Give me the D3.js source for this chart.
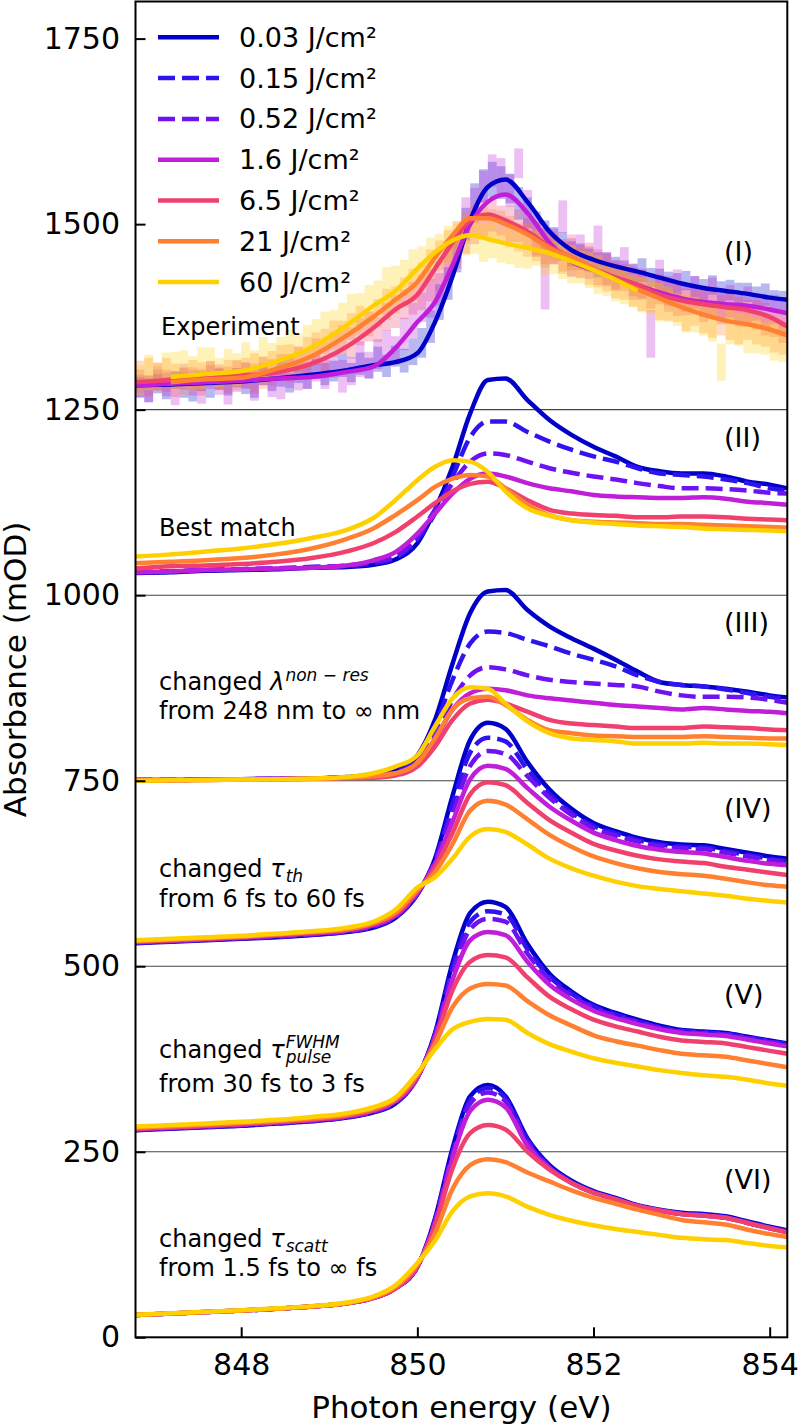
<!DOCTYPE html>
<html><head><meta charset="utf-8">
<script src="https://cdn.jsdelivr.net/npm/d3@7"></script>
<style>
body{margin:0;background:#fff}
svg{display:block}
text{font-family:"DejaVu Sans",sans-serif;fill:#000}
</style>
</head><body>
<svg id="chart" width="798" height="1425"></svg>
<script>
// ---------------- data ----------------
const energy = [846.8,847.2,847.6,848.0,848.4,848.8,849.2,849.5,849.75,850.0,850.2,850.4,850.6,850.8,851.0,851.25,851.5,851.75,852.0,852.25,852.5,852.75,853.0,853.25,853.5,853.75,854.0,854.2];
const fluenceLabels = ["0.03 J/cm²","0.15 J/cm²","0.52 J/cm²","1.6 J/cm²","6.5 J/cm²","21 J/cm²","60 J/cm²"];
const xTicks = [848,850,852,854];
const yTicks = [0,250,500,750,1000,1250,1500,1750];
const panelLabels = ["(I)","(II)","(III)","(IV)","(V)","(VI)"];
const panelLabelValues = [1462.5,1212.5,962.5,712.5,462.5,212.5];
const separatorValues = [250,500,750,1000,1250];

// (I) Experiment — smoothed lines
const exp003 = [1283,1284,1286,1288,1292,1297,1303,1310,1314,1326,1368,1430,1505,1550,1560,1530,1490,1465,1452,1443,1436,1428,1420,1414,1410,1406,1401,1398];
const exp16  = [1282,1285,1287,1289,1292,1294,1301,1308,1333,1368,1395,1445,1500,1530,1540,1515,1475,1450,1438,1428,1418,1408,1400,1395,1392,1390,1385,1380];
const exp65  = [1287,1290,1293,1296,1300,1312,1335,1360,1385,1405,1440,1475,1505,1513,1505,1490,1470,1455,1440,1428,1418,1405,1397,1392,1388,1384,1375,1362];
const exp21  = [null,1287,1291,1293,1305,1322,1350,1375,1398,1422,1455,1485,1508,1508,1500,1486,1468,1455,1440,1425,1412,1400,1388,1378,1370,1365,1358,1350];
const exp60  = [null,1294,1298,1302,1315,1334,1364,1390,1410,1440,1462,1478,1485,1480,1474,1468,1461,1450,1438,1425,1410,null,null,null,null,null,null,null];

// (I) Experiment — binned data (0.1 eV bins from 846.85 eV): centre values and half error
const binCount = 74;
const bin003 = [1280,1276,1285,1279,1290,1283,1275,1288,1282,1291, 1284,1293,1287,1280,1295,1290,1298,1286,1300,1294, 1305,1298,1302,1310,1300,1312,1306,1318,1309,1322, 1316,1328,1340,1362,1395,1420,1460,1500,1535,1552, 1560,1556,1548,1528,1515,1498,1485,1478,1470,1460, 1458,1452,1445,1448,1440,1436,1432,1438,1428,1425, 1422,1418,1424,1415,1412,1418,1408,1411,1405,1408, 1402,1405,1398,1396];
const err003 = [14,16,13,15,12,17,14,13,16,14, 15,13,16,14,12,15,17,13,14,16, 13,15,14,16,13,15,14,17,15,14, 16,18,20,22,24,22,25,22,20,22, 24,22,20,22,21,19,20,18,19,17, 16,15,17,14,16,15,14,16,13,15, 14,16,13,15,14,13,15,14,16,13, 14,15,13,14];
const bin16 = [1282,1278,1290,1284,1276,1292,1286,1280,1294,1288, 1277,1290,1296,1284,1298,1286,1281,1300,1292,1296, 1306,1298,1310,1295,1302,1318,1310,1325,1335,1330, 1352,1370,1388,1400,1412,1448,1470,1510,1525,1550, 1572,1565,1545,1582,1520,1480,1440,1470,1510,1455, 1462,1448,1470,1440,1432,1445,1425,1420,1352,1430, 1410,1415,1400,1408,1395,1402,1390,1396,1385,1392, 1388,1380,1385,1375];
const err16 = [15,18,14,16,20,15,17,22,16,18, 20,16,18,22,15,19,17,21,16,18, 18,20,17,22,19,24,18,20,22,19, 22,24,20,26,22,24,22,26,24,22, 22,24,22,20,26,24,55,24,22,26, 24,22,28,22,20,24,22,20,32,22, 20,24,18,22,20,26,18,22,20,24, 18,22,20,24];
const bin65 = [1288,1282,1295,1289,1284,1298,1291,1287,1300,1294, 1290,1302,1296,1292,1305,1300,1310,1306,1318,1315, 1328,1322,1338,1345,1340,1355,1362,1358,1375,1382, 1392,1400,1408,1418,1430,1445,1462,1480,1495,1508, 1512,1505,1500,1498,1488,1480,1470,1466,1458,1462, 1450,1455,1442,1438,1430,1428,1420,1418,1410,1412, 1402,1398,1395,1398,1390,1392,1385,1388,1382,1380, 1378,1372,1366,1360];
const err65 = [16,14,18,15,17,14,16,18,15,17, 18,15,17,20,16,18,15,19,17,16, 18,20,17,19,21,18,20,17,19,22, 20,22,24,22,20,24,22,20,22,24, 22,20,24,22,20,22,24,20,22,24, 22,20,24,22,20,18,22,20,24,20, 20,22,18,20,22,18,20,22,20,18, 20,22,18,20];
const bin21 = [1298,1305,1292,1300,1296,1288,1302,1295,1299,1292, 1300,1296,1304,1308,1300,1312,1318,1322,1315,1330, 1335,1342,1350,1348,1362,1370,1366,1380,1392,1398, 1408,1418,1430,1445,1458,1470,1485,1495,1505,1502, 1500,1496,1490,1482,1478,1470,1462,1468,1455,1450, 1448,1440,1435,1428,1422,1418,1410,1405,1402,1395, 1392,1388,1380,1384,1375,1372,1370,1366,1362,1365, 1360,1355,1350,1345];
const err21 = [18,15,17,20,16,18,15,19,17,16, 17,20,16,18,22,17,19,16,20,18, 19,17,20,22,18,20,17,19,21,18, 20,22,18,21,20,22,19,21,20,22, 20,22,21,19,22,20,21,19,22,20, 21,22,20,19,22,20,21,22,20,24, 22,20,24,21,22,25,20,22,24,21, 22,20,23,21];
const bin60 = [1290,1300,1296,1305,1302,1310,1298,1306,1312,1300, 1308,1304,1315,1310,1320,1316,1326,1332,1328,1342, 1348,1356,1362,1370,1378,1385,1392,1400,1412,1418, 1428,1440,1448,1458,1465,1472,1478,1480,1484,1475, 1478,1470,1472,1465,1462,1468,1458,1455,1450,1446, 1442,1438,1432,1425,1420,1418,1410,1405,1400,1395, 1392,1385,1380,1378,1372,1368,1314,1362,1358,1352, 1350,1346,1342,1338];
const err60 = [20,24,18,22,26,20,24,28,22,20, 24,22,26,20,28,24,22,26,24,22, 24,26,22,24,28,22,26,24,30,26, 24,26,22,24,22,26,24,22,24,26, 24,22,26,24,22,24,26,22,24,26, 22,24,26,22,24,26,22,24,22,26, 24,22,26,24,22,26,25,24,22,26, 24,22,26,24];

// (II) Best match
const best003 = [1030,1031,1033,1034,1035,1037,1038,1041,1048,1070,1115,1173,1245,1290,1292,1263,1236,1216,1200,1187,1173,1167,1164,1164,1160,1153,1149,1144];
const best015 = [1031,1032,1034,1035,1036,1038,1039,1043,1050,1075,1110,1160,1213,1234,1234,1220,1207,1196,1187,1180,1171,1164,1162,1160,1156,1151,1144,1141];
const best052 = [1031,1032,1034,1035,1036,1038,1040,1045,1052,1079,1115,1151,1180,1191,1189,1180,1171,1165,1160,1156,1151,1147,1144,1144,1143,1141,1138,1137];
const best16  = [1031,1032,1034,1035,1036,1037,1040,1047,1058,1083,1110,1137,1157,1164,1160,1151,1144,1140,1135,1133,1132,1131,1131,1132,1130,1126,1124,1122];
const best65  = [1036,1039,1040,1042,1045,1050,1059,1070,1085,1106,1124,1140,1150,1153,1144,1128,1115,1110,1108,1107,1105,1105,1106,1106,1105,1103,1102,1101];
const best21  = [1043,1045,1047,1050,1055,1063,1076,1090,1108,1128,1146,1157,1162,1160,1144,1122,1108,1101,1099,1098,1097,1096,1096,1095,1094,1093,1092,1091];
const best60  = [1052,1055,1059,1063,1069,1077,1088,1104,1128,1155,1173,1182,1180,1166,1140,1117,1107,1101,1098,1096,1094,1093,1092,1090,1089,1088,1087,1086];

// (III) changed lambda non-res
const lam003 = [751,751,751.5,752,752.5,753,755,758,764,784,832,908,976,1005,1007,980,958,942,928,913,897,883,879,877,874,870,865,862];
const lam015 = [751,751,751.5,752,752.5,753,755,758,762,780,823,886,935,951,949,940,931,921,913,904,892,883,879,877,873,868,863,860];
const lam052 = [751,751,751.5,752,752.5,753,755,757,761,776,809,859,892,903,900,892,886,883,881,879,877,870,865,863,863,862,859,855];
const lam16  = [751,751,751.5,752,752.5,753,754.5,757,760,774,805,846,868,874,872,865,861,858,855,852,850,848,846,848,846,844,843,841];
const lam65  = [750,750.5,751,751.5,752,752.5,753.5,754,757,769,796,832,854,859,854,843,832,827,825,823,821,821,821,823,822,821,819,818];
const lam21  = [750,750.5,751,751.5,752,752.5,754,756,760,774,807,846,861,863,852,832,818,814,811,810,809,809,809,810,809,808,807,807];
const lam60  = [750,750.5,751,751.5,752,753,755,760,769,784,823,861,876,874,854,830,814,807,805,803,800,800,800,801,800,800,799,798];

// (IV) changed tau_th
const th003 = [531,533,535,537,539,542,546,552,565,597,645,730,805,828,820,775,738,712,693,682,673,667,664,663,658,653,648,645];
const th015 = [531.5,533.5,535.5,537.5,539.5,542.5,546.5,553,566,597,643,718,788,808,803,765,732,707,689,679,670,664,661,660,655,650,645,642];
const th052 = [532,534,536,538,540,543,547,554,567,598,641,706,770,790,786,756,727,704,686,676,668,662,659,658,653,648,643,640];
const th16  = [532.5,534.5,536.5,538.5,541,544,548,555,568,599,638,695,752,770,766,740,715,696,680,670,662,657,654,652,647,642,638,636];
const th65  = [533,535,537,539.5,542,545,549,557,570,601,633,680,732,748,744,720,697,680,665,656,649,644,641,639,634,630,626,623];
const th21  = [534,536,538,540,543,546,550,558,572,603,627,665,710,723,718,698,677,661,648,639,632,627,624,622,618,613,609,607];
const th60  = [535,537,539,541,544,547,552,560,576,606,620,645,675,685,681,664,645,632,622,614,608,604,601,598,595,591,588,586];

// (V) changed tau_pulse
const pul003 = [279,281,283,285,288,291,296,303,315,350,410,505,572,587,580,530,490,466,448,437,428,420,414,412,410,405,400,396];
const pul015 = [279.5,281.5,283.5,285.5,288.5,291.5,296.5,303.5,316,350,408,498,560,574,570,523,486,463,446,435,426,418,413,411,409,404,399,395];
const pul052 = [280,282,284,286,289,292,297,304,317,350,406,490,550,564,560,517,482,460,444,433,425,417,412,410,408,403,398,394];
const pul16  = [280.5,282.5,284.5,286.5,289.5,292.5,297.5,305,318,350,404,482,535,546,542,506,475,455,440,430,422,415,410,408,406,401,396,392];
const pul65  = [281,283,285,287.5,290,293.5,298.5,306,319,352,400,468,506,515,512,485,459,442,428,419,412,405,400,398,396,391,386,382];
const pul21  = [282.5,284.5,286.5,289,291.5,295,300,308,321,354,395,445,470,476,474,453,434,420,407,399,393,387,382,380,378,373,368,364];
const pul60  = [284,286,288,290.5,293,297,302,310,323,356,388,415,425,429,428,410,395,385,376,370,365,360,356,353,351,347,342,339];

// (VI) changed tau_scatt
const sca003 = [30,32,34,36,38.5,41.5,46,53,66,95,160,255,325,340,325,268,232,211,197,188,178,172,168,166,163,156,149,144];
const sca015 = [30,32,34,36,38.5,41.5,46,53,66,95,158,250,320,336,322,266,230,210,196,187,177,171,167,165,162,155,148,143];
const sca052 = [30,32,34,36,38.5,41.5,46,53,66,95,156,246,315,330,318,263,229,209,195,186,177,171,166,164,161,154,147,143];
const sca16  = [30,32,34,36,38.5,41.5,46,53,66,95,154,242,305,320,310,258,228,208,195,186,177,170,166,164,161,154,147,142];
const sca65  = [30,32,34,36,38.5,41.5,46,53,66,96,150,228,275,286,280,250,226,208,195,186,177,171,166,164,161,154,147,141];
const sca21  = [30,32,34,36,38.5,41.5,46,54,68,98,140,200,232,240,236,222,210,198,188,180,172,165,158,155,152,145,139,135];
const sca60  = [30.5,32.5,34.5,36.5,39,42,47,55,70,100,130,170,190,194,190,176,165,157,151,146,142,138,134,132,131,127,123,121];

// ---------------- style ----------------
const colors = ["#0000c8","#3014f0","#6e12f2","#c01ed8","#f0416e","#ff8030","#ffd000"];
const dashed = [false,true,true,false,false,false,false];
const LW = 4.5;

const svg = d3.select("#chart");
const x = d3.scaleLinear().domain([846.8,854.2]).range([135.5,787.3]);
const y = d3.scaleLinear().domain([0,1800]).range([1337.3,1.5]);

svg.append("defs").append("clipPath").attr("id","clip")
  .append("rect").attr("x",x.range()[0]).attr("y",y.range()[1])
  .attr("width",x.range()[1]-x.range()[0]).attr("height",y.range()[0]-y.range()[1]);

const plot = svg.append("g").attr("clip-path","url(#clip)");

// separators
plot.selectAll("line.sep").data(separatorValues).join("line")
  .attr("x1",x.range()[0]).attr("x2",x.range()[1])
  .attr("y1",d=>y(d)).attr("y2",d=>y(d))
  .attr("stroke","#444").attr("stroke-width",1.1);

// experiment bins (error boxes)
const binE = d3.range(binCount).map(k=>846.85+0.1*k);
const binSets = [[bin003,err003,0],[bin16,err16,3],[bin65,err65,4],[bin21,err21,5],[bin60,err60,6]];
binSets.forEach(([c,e,s])=>{
  plot.append("g").selectAll("rect").data(c).join("rect")
    .attr("x",(d,i)=>x(binE[i]-0.05))
    .attr("width",(d,i)=>x(binE[i]+0.05)-x(binE[i]-0.05))
    .attr("y",(d,i)=>y(d+e[i]))
    .attr("height",(d,i)=>y(d-e[i])-y(d+e[i]))
    .attr("fill",colors[s]).attr("fill-opacity",0.28);
});

const line = d3.line()
  .defined(d=>d!=null)
  .x((d,i)=>x(energy[i]))
  .y(d=>y(d))
  .curve(d3.curveMonotoneX);

function drawSet(arrs, idx){
  arrs.forEach((a,k)=>{
    const s = idx[k];
    plot.append("path").attr("d",line(a))
      .attr("fill","none").attr("stroke",colors[s])
      .attr("stroke-width",LW)
      .attr("stroke-linejoin","round")
      .attr("stroke-dasharray",dashed[s]?"17,7":null);
  });
}
drawSet([exp003,exp16,exp65,exp21,exp60],[0,3,4,5,6]);
const all7 = [0,1,2,3,4,5,6];
drawSet([best003,best015,best052,best16,best65,best21,best60],all7);
drawSet([lam003,lam015,lam052,lam16,lam65,lam21,lam60],all7);
drawSet([th003,th015,th052,th16,th65,th21,th60],all7);
drawSet([pul003,pul015,pul052,pul16,pul65,pul21,pul60],all7);
drawSet([sca003,sca015,sca052,sca16,sca65,sca21,sca60],all7);

// axes
const gx = svg.append("g").attr("transform",`translate(0,${y.range()[0]})`)
  .call(d3.axisBottom(x).tickValues(xTicks).tickFormat(d3.format("d")).tickSize(-10).tickPadding(16));
const gy = svg.append("g").attr("transform",`translate(${x.range()[0]},0)`)
  .call(d3.axisLeft(y).tickValues(yTicks).tickFormat(d3.format("d")).tickSize(-10).tickPadding(15.5));
[gx,gy].forEach(g=>{
  g.select(".domain").remove();
  g.selectAll(".tick line").attr("stroke","#000").attr("stroke-width",2);
  g.selectAll(".tick text").attr("font-size",30).attr("font-family","DejaVu Sans").attr("fill","#000");
});
// frame
svg.append("rect").attr("x",x.range()[0]).attr("y",y.range()[1])
  .attr("width",x.range()[1]-x.range()[0]).attr("height",y.range()[0]-y.range()[1])
  .attr("fill","none").attr("stroke","#000").attr("stroke-width",2);

// axis titles
svg.append("text").attr("x",(x.range()[0]+x.range()[1])/2).attr("y",1418)
  .attr("text-anchor","middle").attr("font-size",31).text("Photon energy (eV)");
svg.append("text").attr("transform",`translate(26,${(y.range()[0]+y.range()[1])/2}) rotate(-90)`)
  .attr("text-anchor","middle").attr("font-size",31).text("Absorbance (mOD)");

// panel labels
svg.selectAll("text.plab").data(panelLabels).join("text")
  .attr("x",724).attr("y",(d,i)=>y(panelLabelValues[i])).attr("dy","0.35em")
  .attr("font-size",27).text(d=>d);

// annotations
function ann(lines){
  lines.forEach(l=>{
    const t = svg.append("text").attr("x",l.x||159).attr("y",l.y).attr("font-size",24);
    l.parts.forEach(p=>{
      if(typeof p==="string"){ t.append("tspan").text(p); }
      else if(p.it){ t.append("tspan").attr("font-style","italic").text(p.it); }
    });
    if(l.sup || l.sub){
      const w = t.node().getComputedTextLength();
      const x0 = (l.x||159)+w+1;
      if(l.sup) svg.append("text").attr("x",x0).attr("y",l.y-(l.sub?10.5:9.5)).attr("font-size",17)
        .attr("font-style","italic").text(l.sup);
      if(l.sub) svg.append("text").attr("x",x0).attr("y",l.y+5).attr("font-size",17)
        .attr("font-style","italic").text(l.sub);
    }
  });
}
ann([{x:161,y:335,parts:["Experiment"]}]);
ann([{y:536,parts:["Best match"]}]);
ann([{y:690,parts:["changed ",{it:"λ"}],sup:"non − res"},{y:719.3,parts:["from 248 nm to ∞ nm"]}]);
ann([{y:876.7,parts:["changed ",{it:"τ"}],sub:"th"},{y:906.7,parts:["from 6 fs to 60 fs"]}]);
ann([{y:1058.3,parts:["changed ",{it:"τ"}],sup:"FWHM",sub:"pulse"},{y:1091.7,parts:["from 30 fs to 3 fs"]}]);
ann([{y:1246.7,parts:["changed ",{it:"τ"}],sub:"scatt"},{y:1276,parts:["from 1.5 fs to ∞ fs"]}]);

// legend
const leg = svg.append("g");
fluenceLabels.forEach((lab,i)=>{
  const yy = 37.3 + i*40.8;
  leg.append("line").attr("x1",158).attr("x2",219).attr("y1",yy).attr("y2",yy)
    .attr("stroke",colors[i]).attr("stroke-width",LW)
    .attr("stroke-dasharray",dashed[i]?"17,7":null);
  leg.append("text").attr("x",239).attr("y",yy).attr("dy","0.35em").attr("font-size",27).text(lab);
});
</script>
</body></html>
